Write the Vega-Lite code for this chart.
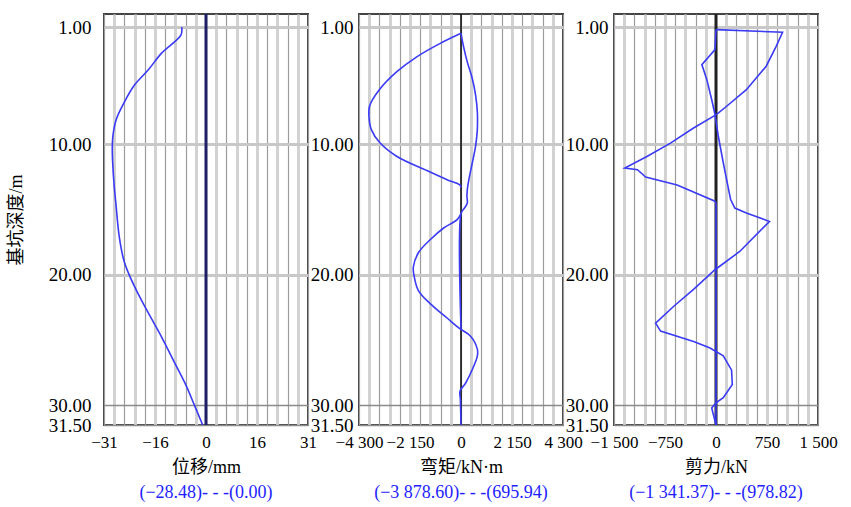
{
  "$schema": "https://vega.github.io/schema/vega-lite/v6.json",
  "padding": {"left": 6, "top": 11, "right": 0, "bottom": 0},
  "spacing": 51,
  "bounds": "flush",
  "config": {
    "view": {"stroke": "#444444", "strokeWidth": 2},
    "font": "Liberation Serif, Noto Sans CJK SC",
    "axis": {"labelFont": "Liberation Serif, Noto Sans CJK SC", "titleFont": "Liberation Serif, Noto Sans CJK SC", "labelColor": "#000000", "titleColor": "#000000", "titleFontWeight": "normal", "labelFontWeight": "normal", "tickCount": 40},
    "title": {"font": "Liberation Serif, Noto Sans CJK SC", "fontWeight": "normal", "fontSize": 18, "color": "#1e1eff", "orient": "bottom", "offset": 8}
  },
  "datasets": {
    "disp": [
      {"s": "a", "d": 1.0, "v": -7.4}, {"s": "a", "d": 1.6, "v": -7.6}, {"s": "a", "d": 3.0, "v": -13.5},
      {"s": "a", "d": 4.3, "v": -17.6}, {"s": "a", "d": 5.5, "v": -21.9}, {"s": "a", "d": 6.8, "v": -24.9},
      {"s": "a", "d": 8.1, "v": -27.3}, {"s": "a", "d": 9.35, "v": -28.3}, {"s": "a", "d": 10.3, "v": -28.48},
      {"s": "a", "d": 11.2, "v": -28.4}, {"s": "a", "d": 13.2, "v": -27.9}, {"s": "a", "d": 14.5, "v": -27.4},
      {"s": "a", "d": 17.0, "v": -26.4}, {"s": "a", "d": 18.85, "v": -25.0}, {"s": "a", "d": 19.9, "v": -23.5},
      {"s": "a", "d": 21.1, "v": -21.3}, {"s": "a", "d": 22.6, "v": -18.2}, {"s": "a", "d": 24.7, "v": -13.6},
      {"s": "a", "d": 26.7, "v": -9.6}, {"s": "a", "d": 28.5, "v": -6.0}, {"s": "a", "d": 30.0, "v": -3.5},
      {"s": "a", "d": 31.5, "v": -1.0}
    ],
    "mom": [
      {"s": "m1", "d": 1.48, "v": 0}, {"s": "m1", "d": 2.25, "v": -873}, {"s": "m1", "d": 3.28, "v": -1865},
      {"s": "m1", "d": 4.44, "v": -2716}, {"s": "m1", "d": 5.77, "v": -3427}, {"s": "m1", "d": 7.05, "v": -3853},
      {"s": "m1", "d": 7.9, "v": -3878.6}, {"s": "m1", "d": 8.86, "v": -3780}, {"s": "m1", "d": 9.85, "v": -3427},
      {"s": "m1", "d": 10.9, "v": -2716}, {"s": "m1", "d": 12.0, "v": -1439}, {"s": "m1", "d": 12.7, "v": -587},
      {"s": "m1", "d": 13.1, "v": -50}, {"s": "m1", "d": 13.3, "v": 0},
      {"s": "m2", "d": 1.48, "v": 0}, {"s": "m2", "d": 2.38, "v": 94}, {"s": "m2", "d": 3.67, "v": 264},
      {"s": "m2", "d": 4.96, "v": 477}, {"s": "m2", "d": 6.24, "v": 617}, {"s": "m2", "d": 7.53, "v": 690},
      {"s": "m2", "d": 8.2, "v": 695.94}, {"s": "m2", "d": 8.82, "v": 690}, {"s": "m2", "d": 10.1, "v": 617},
      {"s": "m2", "d": 11.4, "v": 477}, {"s": "m2", "d": 12.7, "v": 332}, {"s": "m2", "d": 13.5, "v": 264},
      {"s": "m2", "d": 14.0, "v": 250}, {"s": "m2", "d": 14.5, "v": 264}, {"s": "m2", "d": 15.0, "v": 94},
      {"s": "m2", "d": 15.3, "v": 0}, {"s": "m2", "d": 24.1, "v": 0},
      {"s": "m3", "d": 15.3, "v": 0}, {"s": "m3", "d": 15.76, "v": -162}, {"s": "m3", "d": 16.4, "v": -732},
      {"s": "m3", "d": 17.3, "v": -1300}, {"s": "m3", "d": 18.3, "v": -1796}, {"s": "m3", "d": 19.4, "v": -2010},
      {"s": "m3", "d": 20.05, "v": -1980}, {"s": "m3", "d": 21.2, "v": -1796}, {"s": "m3", "d": 22.2, "v": -1300},
      {"s": "m3", "d": 23.3, "v": -587}, {"s": "m3", "d": 24.06, "v": -94}, {"s": "m3", "d": 24.7, "v": 404},
      {"s": "m3", "d": 25.7, "v": 690}, {"s": "m3", "d": 26.2, "v": 690}, {"s": "m3", "d": 27.25, "v": 477},
      {"s": "m3", "d": 28.3, "v": 191}, {"s": "m3", "d": 28.9, "v": -40}, {"s": "m3", "d": 29.6, "v": -25},
      {"s": "m3", "d": 31.5, "v": 0}
    ],
    "shear": [
      {"s": "a", "d": 1.2, "v": 0}, {"s": "a", "d": 1.4, "v": 978.82}, {"s": "a", "d": 2.5, "v": 883},
      {"s": "a", "d": 4.0, "v": 738}, {"s": "a", "d": 5.8, "v": 447}, {"s": "a", "d": 7.07, "v": 156},
      {"s": "a", "d": 7.7, "v": 10}, {"s": "a", "d": 8.74, "v": -330}, {"s": "a", "d": 9.9, "v": -670},
      {"s": "a", "d": 10.9, "v": -1009}, {"s": "a", "d": 11.8, "v": -1341.37}, {"s": "a", "d": 11.93, "v": -1155},
      {"s": "a", "d": 12.5, "v": -1034}, {"s": "a", "d": 13.1, "v": -572}, {"s": "a", "d": 14.35, "v": -15},
      {"s": "a", "d": 14.5, "v": 0}, {"s": "a", "d": 31.5, "v": 0},
      {"s": "b", "d": 1.2, "v": 0}, {"s": "b", "d": 2.73, "v": -15}, {"s": "b", "d": 3.88, "v": -208},
      {"s": "b", "d": 5.03, "v": -135}, {"s": "b", "d": 6.57, "v": -63}, {"s": "b", "d": 7.7, "v": -15},
      {"s": "b", "d": 9.37, "v": 34}, {"s": "b", "d": 11.4, "v": 107}, {"s": "b", "d": 12.7, "v": 156},
      {"s": "b", "d": 14.2, "v": 214}, {"s": "b", "d": 14.87, "v": 277}, {"s": "b", "d": 15.25, "v": 447},
      {"s": "b", "d": 15.9, "v": 786}, {"s": "b", "d": 18.2, "v": 349}, {"s": "b", "d": 19.6, "v": -15},
      {"s": "b", "d": 21.1, "v": -330}, {"s": "b", "d": 22.4, "v": -621}, {"s": "b", "d": 23.7, "v": -888},
      {"s": "b", "d": 24.3, "v": -815}, {"s": "b", "d": 25.1, "v": -330}, {"s": "b", "d": 25.6, "v": -87},
      {"s": "b", "d": 26.2, "v": 107}, {"s": "b", "d": 27.3, "v": 229}, {"s": "b", "d": 28.4, "v": 240},
      {"s": "b", "d": 29.4, "v": 107}, {"s": "b", "d": 29.8, "v": 0}, {"s": "b", "d": 30.2, "v": -63},
      {"s": "b", "d": 30.7, "v": -39}, {"s": "b", "d": 31.5, "v": 0}
    ]
  },
  "hconcat": [
    {
      "width": 204, "height": 411,
      "title": {"text": "(−28.48)- - -(0.00)"},
      "layer": [
        {
          "data": {"values": [{}]},
          "mark": {"type": "rule", "color": "#1f1f66", "strokeWidth": 3},
          "encoding": {"x": {"datum": 0, "type": "quantitative"}}
        },
        {
          "data": {"name": "disp"},
          "mark": {"type": "line", "color": "#3b3bf5", "strokeWidth": 1.6, "interpolate": "catmull-rom"},
          "encoding": {
            "x": {"field": "v", "type": "quantitative",
              "scale": {"domain": [-31, 31], "nice": false, "zero": false},
              "axis": {"values": [-31, -27.9, -24.8, -21.7, -18.6, -15.5, -12.4, -9.3, -6.2, -3.1, 0, 3.1, 6.2, 9.3, 12.4, 15.5, 18.6, 21.7, 24.8, 27.9, 31],
                "tickCount": 40,
                "labelExpr": "datum.value == -31 ? '−31' : datum.value == -15.5 ? '−16' : datum.value == 0 ? '0' : datum.value == 15.5 ? '16' : datum.value == 31 ? '31' : ''",
                "grid": true,
                "gridColor": {"condition": {"test": "round(abs(datum.value)/3.1) % 2 == 1", "value": "#d2d2d2"}, "value": "#9c9c9c"},
                "gridWidth": {"condition": {"test": "round(abs(datum.value)/3.1) % 2 == 1", "value": 3}, "value": 1.2},
                "ticks": false, "domain": false, "labelFlush": false, "labelOverlap": false,
                "labelFontSize": 17, "labelPadding": 9,
                "title": "位移/mm", "titleFontSize": 18, "titlePadding": 8}},
            "y": {"field": "d", "type": "quantitative",
              "scale": {"domain": [0, 31.5], "reverse": true, "nice": false, "zero": false},
              "axis": {"values": [1, 10, 20, 30, 31.5], "tickCount": 40, "format": ".2f", "grid": true,
                "gridColor": {"condition": {"test": "datum.value >= 30", "value": "#8a8a8a"}, "value": "#c8c8c8"},
                "gridWidth": {"condition": {"test": "datum.value >= 30", "value": 1.5}, "value": 3},
                "ticks": false, "domain": false, "labelOverlap": false, "labelFontSize": 19, "labelPadding": 13,
                "title": "基坑深度/m", "titleFontSize": 18, "titlePadding": 23}},
            "detail": {"field": "s"},
            "order": {"field": "d"}
          }
        }
      ]
    },
    {
      "width": 204, "height": 411,
      "title": {"text": "(−3 878.60)- - -(695.94)"},
      "layer": [
        {
          "data": {"values": [{}]},
          "mark": {"type": "rule", "color": "#111111", "strokeWidth": 1.6},
          "encoding": {"x": {"datum": 0, "type": "quantitative"}}
        },
        {
          "data": {"name": "mom"},
          "mark": {"type": "line", "color": "#3b3bf5", "strokeWidth": 1.6, "interpolate": "catmull-rom"},
          "encoding": {
            "x": {"field": "v", "type": "quantitative",
              "scale": {"domain": [-4300, 4300], "nice": false, "zero": false},
              "axis": {"values": [-4300, -3870, -3440, -3010, -2580, -2150, -1720, -1290, -860, -430, 0, 430, 860, 1290, 1720, 2150, 2580, 3010, 3440, 3870, 4300],
                "tickCount": 40,
                "labelExpr": "datum.value == -4300 ? '−4 300' : datum.value == -2150 ? '−2 150' : datum.value == 0 ? '0' : datum.value == 2150 ? '2 150' : datum.value == 4300 ? '4 300' : ''",
                "grid": true,
                "gridColor": {"condition": {"test": "round(abs(datum.value)/430) % 2 == 1", "value": "#d2d2d2"}, "value": "#9c9c9c"},
                "gridWidth": {"condition": {"test": "round(abs(datum.value)/430) % 2 == 1", "value": 3}, "value": 1.2},
                "ticks": false, "domain": false, "labelFlush": false, "labelOverlap": false,
                "labelFontSize": 17, "labelPadding": 9,
                "title": "弯矩/kN·m", "titleFontSize": 18, "titlePadding": 8}},
            "y": {"field": "d", "type": "quantitative",
              "scale": {"domain": [0, 31.5], "reverse": true, "nice": false, "zero": false},
              "axis": {"values": [1, 10, 20, 30, 31.5], "tickCount": 40, "format": ".2f", "grid": true,
                "gridColor": {"condition": {"test": "datum.value >= 30", "value": "#8a8a8a"}, "value": "#c8c8c8"},
                "gridWidth": {"condition": {"test": "datum.value >= 30", "value": 1.5}, "value": 3},
                "ticks": false, "domain": false, "labelOverlap": false, "labelFontSize": 19, "labelPadding": 6,
                "title": null}},
            "detail": {"field": "s"},
            "order": {"field": "d"}
          }
        }
      ]
    },
    {
      "width": 204, "height": 411,
      "title": {"text": "(−1 341.37)- - -(978.82)"},
      "layer": [
        {
          "data": {"values": [{}]},
          "mark": {"type": "rule", "color": "#222222", "strokeWidth": 3},
          "encoding": {"x": {"datum": 0, "type": "quantitative"}}
        },
        {
          "data": {"name": "shear"},
          "mark": {"type": "line", "color": "#3b3bf5", "strokeWidth": 1.6},
          "encoding": {
            "x": {"field": "v", "type": "quantitative",
              "scale": {"domain": [-1500, 1500], "nice": false, "zero": false},
              "axis": {"values": [-1500, -1350, -1200, -1050, -900, -750, -600, -450, -300, -150, 0, 150, 300, 450, 600, 750, 900, 1050, 1200, 1350, 1500],
                "tickCount": 40,
                "labelExpr": "datum.value == -1500 ? '−1 500' : datum.value == -750 ? '−750' : datum.value == 0 ? '0' : datum.value == 750 ? '750' : datum.value == 1500 ? '1 500' : ''",
                "grid": true,
                "gridColor": {"condition": {"test": "round(abs(datum.value)/150) % 2 == 1", "value": "#d2d2d2"}, "value": "#9c9c9c"},
                "gridWidth": {"condition": {"test": "round(abs(datum.value)/150) % 2 == 1", "value": 3}, "value": 1.2},
                "ticks": false, "domain": false, "labelFlush": false, "labelOverlap": false,
                "labelFontSize": 17, "labelPadding": 9,
                "title": "剪力/kN", "titleFontSize": 18, "titlePadding": 8}},
            "y": {"field": "d", "type": "quantitative",
              "scale": {"domain": [0, 31.5], "reverse": true, "nice": false, "zero": false},
              "axis": {"values": [1, 10, 20, 30, 31.5], "tickCount": 40, "format": ".2f", "grid": true,
                "gridColor": {"condition": {"test": "datum.value >= 30", "value": "#8a8a8a"}, "value": "#c8c8c8"},
                "gridWidth": {"condition": {"test": "datum.value >= 30", "value": 1.5}, "value": 3},
                "ticks": false, "domain": false, "labelOverlap": false, "labelFontSize": 19, "labelPadding": 6,
                "title": null}},
            "detail": {"field": "s"},
            "order": {"field": "d"}
          }
        }
      ]
    }
  ]
}
